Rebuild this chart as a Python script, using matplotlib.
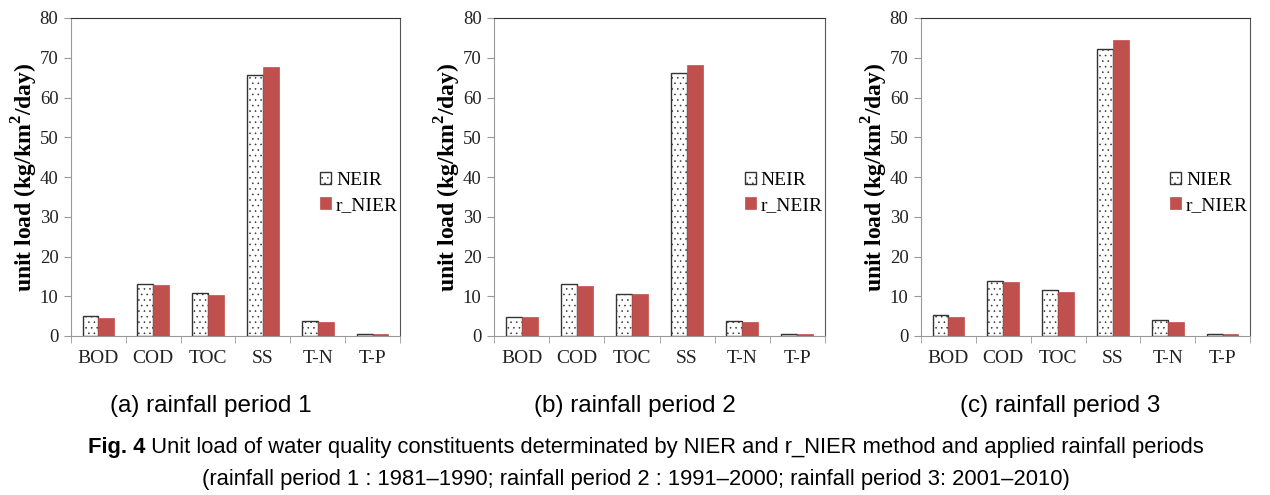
import numpy as np
import matplotlib
matplotlib.use("Agg")
import matplotlib.pyplot as plt

categories = ["BOD", "COD", "TOC", "SS", "T-N", "T-P"]

# period 1 : 1981-1990
nier_p1 = [5.1, 13.2, 10.8, 65.7, 3.8, 0.6]
rnier_p1 = [4.6, 12.8, 10.4, 67.6, 3.4, 0.4]
# period 2 : 1991-2000
nier_p2 = [4.9, 13.1, 10.6, 66.2, 3.8, 0.6]
rnier_p2 = [4.7, 12.6, 10.5, 68.3, 3.4, 0.4]
# period 3 : 2001-2010
nier_p3 = [5.4, 13.9, 11.6, 72.1, 3.9, 0.6]
rnier_p3 = [4.9, 13.5, 11.1, 74.4, 3.5, 0.4]

legend_names = [("NEIR", "r_NIER"), ("NEIR", "r_NEIR"), ("NIER", "r_NIER")]
sub_titles = ["(a) rainfall period 1", "(b) rainfall period 2", "(c) rainfall period 3"]

red = "#C0504D"
serif = ["Liberation Serif", "DejaVu Serif"]
cap_font = ["Liberation Sans Narrow", "Liberation Sans", "DejaVu Sans"]

plt.rcParams["hatch.linewidth"] = 0.4

fig = plt.figure(figsize=(12.7, 4.95), dpi=100)

axes_pos = [(71, 329), (494, 331), (921, 329)]
series = [(nier_p1, rnier_p1), (nier_p2, rnier_p2), (nier_p3, rnier_p3)]

x = np.arange(len(categories))
w = 0.29

for i, ((left, width), (a, b)) in enumerate(zip(axes_pos, series)):
    ax = fig.add_axes([left / 1270, 1 - 336 / 495, width / 1270, 318 / 495])
    ax.bar(x - w / 2, a, w, facecolor="white", edgecolor="#333333", hatch="...",
           linewidth=1.0, label=legend_names[i][0], zorder=3)
    ax.bar(x + w / 2, b, w, color=red, edgecolor=red, linewidth=0.5,
           label=legend_names[i][1], zorder=3)
    ax.set_xlim(-0.5, len(categories) - 0.5)
    ax.set_ylim(0, 80)
    ax.set_yticks(range(0, 81, 10))
    ax.set_xticks(x)
    ax.set_xticklabels(categories, fontfamily=serif, fontsize=14)
    ax.set_xticks(np.arange(-0.5, len(categories)), minor=True)
    ax.tick_params(axis="x", which="major", length=0, pad=10)
    ax.tick_params(axis="x", which="minor", length=5, color="#999999")
    ax.tick_params(axis="y", length=5, color="#999999", labelsize=13.5, pad=4)
    for lab in ax.get_yticklabels():
        lab.set_fontfamily(serif)
        lab.set_color("#222222")
    for lab in ax.get_xticklabels():
        lab.set_color("#222222")
    ax.spines["left"].set_color("#999999")
    ax.spines["bottom"].set_color("#999999")
    ax.spines["top"].set_color("#333333")
    ax.spines["right"].set_color("#555555")
    ax.set_ylabel("unit load (kg/km$^{\\mathregular{2}}$/day)", fontfamily=serif,
                  fontsize=17, fontweight="bold", labelpad=0)
    leg = ax.legend(loc="center left", bbox_to_anchor=(0.705, 0.45), frameon=False,
                    prop={"family": serif, "size": 14}, handlelength=0.55,
                    handleheight=0.55, handletextpad=0.25, labelspacing=0.4)
    fig.text((left + width / 2 - 25) / 1270, 1 - 406 / 495, sub_titles[i],
             ha="center", va="center", fontsize=17.5, family=cap_font)

# figure caption with bold "Fig. 4"
renderer = fig.canvas.get_renderer()
t_bold = fig.text(0, 1 - 447 / 495, "Fig. 4", fontsize=15.8, fontweight="bold",
                  family=cap_font, va="center")
t_rest = fig.text(0, 1 - 447 / 495,
                  " Unit load of water quality constituents determinated by NIER and r_NIER method and applied rainfall periods",
                  fontsize=15.8, family=cap_font, va="center")
wb = t_bold.get_window_extent(renderer).width
wr = t_rest.get_window_extent(renderer).width
x0 = (1270 - wb - wr) / 2 + 11
t_bold.set_x(x0 / 1270)
t_rest.set_x((x0 + wb) / 1270)

fig.text(636 / 1270, 1 - 480 / 495,
         "(rainfall period 1 : 1981\u20131990; rainfall period 2 : 1991\u20132000; rainfall period 3: 2001\u20132010)",
         ha="center", va="center", fontsize=15.8, family=cap_font)

fig.savefig("out.png", dpi=100)
